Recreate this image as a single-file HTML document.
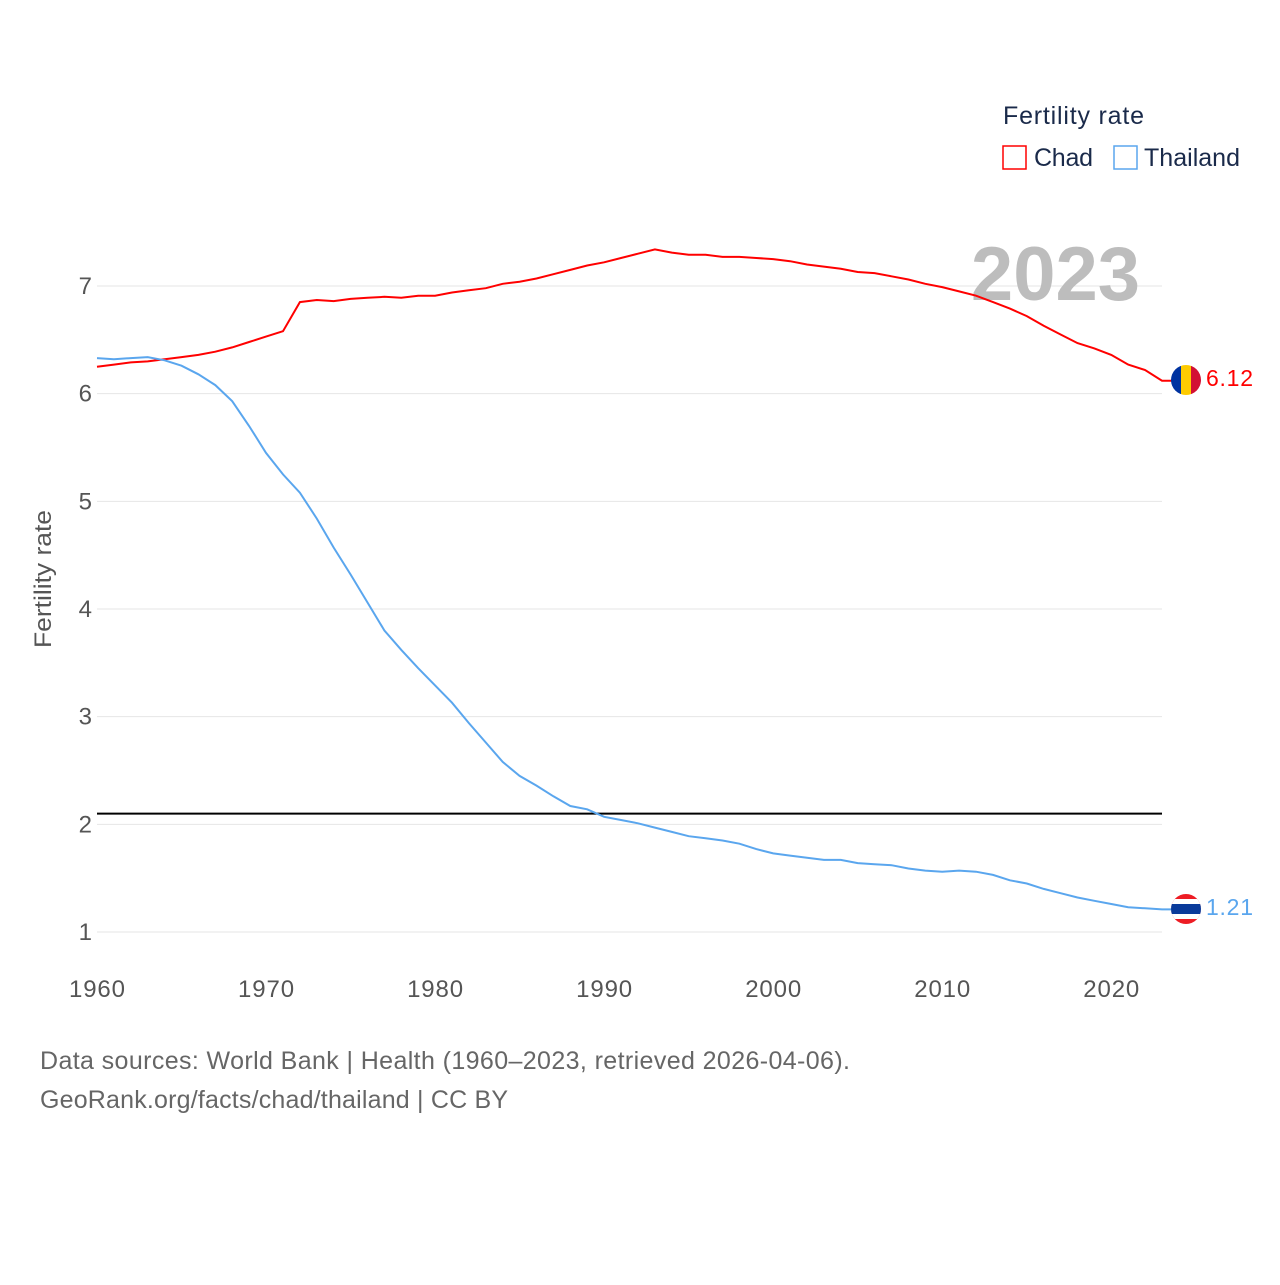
<!DOCTYPE html>
<html><head><meta charset="utf-8"><style>
body{margin:0;background:#fff;font-family:"Liberation Sans",sans-serif}
svg text{font-family:"Liberation Sans",sans-serif}
</style></head><body>
<svg id="chart" width="1280" height="1280" xmlns="http://www.w3.org/2000/svg">
<defs>
<clipPath id="cc"><circle cx="1186" cy="380" r="15"/></clipPath>
<clipPath id="ct"><circle cx="1186" cy="909" r="15"/></clipPath>
</defs>
<g id="grid"></g>
<g id="xt"></g>
<text transform="translate(51,579) rotate(-90)" text-anchor="middle" font-size="24" textLength="138" lengthAdjust="spacingAndGlyphs" fill="#555">Fertility rate</text>
<text x="1140" y="300" text-anchor="end" font-size="76" font-weight="bold" fill="#bdbdbd">2023</text>
<line id="ref" stroke="#000" stroke-width="2"/>
<path id="chadLine" fill="none" stroke="#f00" stroke-width="2"/>
<path id="thaiLine" fill="none" stroke="#5aa6ee" stroke-width="2"/>
<g clip-path="url(#cc)">
<rect x="1171" y="365" width="10" height="30" fill="#0033a0"/><rect x="1181" y="365" width="10" height="30" fill="#fecb00"/><rect x="1191" y="365" width="10" height="30" fill="#d21034"/></g>
<g clip-path="url(#ct)">
<rect x="1171" y="894" width="30" height="30" fill="#ed1c24"/><rect x="1171" y="899" width="30" height="20" fill="#fff"/><rect x="1171" y="904" width="30" height="10" fill="#0a3a9a"/></g>
<text x="1206" y="386" font-size="23" textLength="47" fill="#f00">6.12</text>
<text x="1206" y="915" font-size="23" textLength="47" fill="#5aa6ee">1.21</text>
<text x="1003" y="124" font-size="25" textLength="141" fill="#1a2a4a">Fertility rate</text>
<rect x="1003" y="146" width="23" height="23" fill="none" stroke="#f00" stroke-width="1.5"/>
<text x="1034" y="166" font-size="25" textLength="59" fill="#1a2a4a">Chad</text>
<rect x="1114" y="146" width="23" height="23" fill="none" stroke="#5aa6ee" stroke-width="1.5"/>
<text x="1144" y="166" font-size="25" textLength="96" fill="#1a2a4a">Thailand</text>
<text x="40" y="1069" font-size="25" textLength="810" fill="#666">Data sources: World Bank | Health (1960–2023, retrieved 2026-04-06).</text>
<text x="40" y="1108" font-size="25" textLength="468" fill="#666">GeoRank.org/facts/chad/thailand | CC BY</text>
</svg>
<script>
const years=[];for(let y=1960;y<=2023;y++)years.push(y);
const chad=[6.25,6.27,6.29,6.30,6.32,6.34,6.36,6.39,6.43,6.48,6.53,6.58,6.85,6.87,6.86,6.88,6.89,6.90,6.89,6.91,6.91,6.94,6.96,6.98,7.02,7.04,7.07,7.11,7.15,7.19,7.22,7.26,7.30,7.34,7.31,7.29,7.29,7.27,7.27,7.26,7.25,7.23,7.20,7.18,7.16,7.13,7.12,7.09,7.06,7.02,6.99,6.95,6.91,6.85,6.79,6.72,6.63,6.55,6.47,6.42,6.36,6.27,6.22,6.12];
const thailand=[6.33,6.32,6.33,6.34,6.31,6.26,6.18,6.08,5.93,5.70,5.45,5.25,5.08,4.84,4.57,4.32,4.06,3.80,3.62,3.45,3.29,3.13,2.94,2.76,2.58,2.45,2.36,2.26,2.17,2.14,2.07,2.04,2.01,1.97,1.93,1.89,1.87,1.85,1.82,1.77,1.73,1.71,1.69,1.67,1.67,1.64,1.63,1.62,1.59,1.57,1.56,1.57,1.56,1.53,1.48,1.45,1.40,1.36,1.32,1.29,1.26,1.23,1.22,1.21];
const yTicks=[1,2,3,4,5,6,7];
const xTicks=[1960,1970,1980,1990,2000,2010,2020];
const replacement=2.1;
const X=y=>97+(y-1960)*(1162-97)/63;
const Y=v=>932-(v-1)*(932-286)/6;
const NS="http://www.w3.org/2000/svg";
const grid=document.getElementById('grid'),xt=document.getElementById('xt');
yTicks.forEach(t=>{
 const l=document.createElementNS(NS,'line');
 
 
 l.setAttribute('x1',97);l.setAttribute('x2',1162);l.setAttribute('y1',Y(t));l.setAttribute('y2',Y(t));l.setAttribute('stroke','#e6e6e6');
 grid.appendChild(l);
 const tx=document.createElementNS(NS,'text');
 
 
 tx.setAttribute('x',92);tx.setAttribute('y',Y(t)+8);tx.setAttribute('text-anchor','end');tx.setAttribute('font-size','24');tx.setAttribute('fill','#555');tx.textContent=t;
 grid.appendChild(tx);
});
xTicks.forEach(t=>{
 const tx=document.createElementNS(NS,'text');
 
 
 tx.setAttribute('x',X(t));tx.setAttribute('y',997);tx.setAttribute('text-anchor','middle');tx.setAttribute('font-size','24');tx.setAttribute('textLength','56');tx.setAttribute('fill','#555');tx.textContent=t;
 xt.appendChild(tx);
});
const r=document.getElementById('ref');
r.setAttribute('x1',97);r.setAttribute('x2',1162);r.setAttribute('y1',Y(replacement));r.setAttribute('y2',Y(replacement));
const path=a=>a.map((v,i)=>(i?'L':'M')+X(years[i]).toFixed(1)+','+Y(v).toFixed(1)).join('')+'L1172,'+Y(a[a.length-1]).toFixed(1);
document.getElementById('chadLine').setAttribute('d',path(chad));
document.getElementById('thaiLine').setAttribute('d',path(thailand));
</script>
</body></html>
